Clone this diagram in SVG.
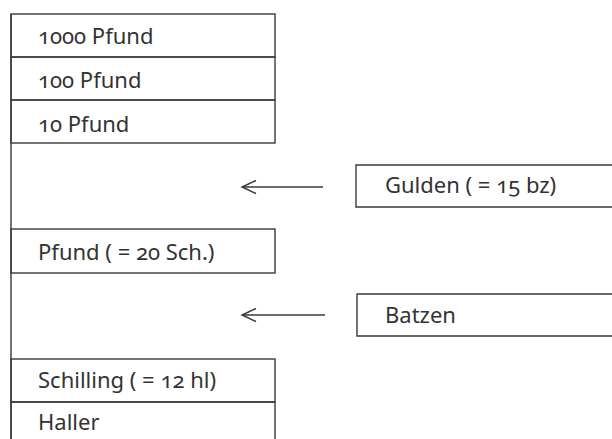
<svg xmlns="http://www.w3.org/2000/svg" width="612" height="439" viewBox="0 0 612 439">
<defs>
<style>
.box{fill:none;stroke:#3a3a3a;stroke-width:1.4}
.t{font-family:"Noto Sans","Open Sans","Liberation Sans",sans-serif;font-size:22px;fill:#333;font-variant-numeric:oldstyle-nums}
.c{fill:none;stroke:#3a3a3a;stroke-width:1.4}
</style>
<marker id="ah" markerWidth="18" markerHeight="16" refX="15.5" refY="8" orient="auto" markerUnits="userSpaceOnUse">
<path d="M1.5,1.5 L15.5,8 L1.5,14.5" fill="none" stroke="#3a3a3a" stroke-width="1.4"/>
</marker>
</defs>
<rect width="612" height="439" fill="#fff"/>
<g id="spine"><line class="box" x1="11" y1="14" x2="11" y2="445"/></g>
<g id="n1000"><rect class="box" x="11" y="14" width="264" height="43"/><text class="t" x="38" y="44">1000 Pfund</text></g>
<g id="n100"><rect class="box" x="11" y="57" width="264" height="43"/><text class="t" x="38" y="88">100 Pfund</text></g>
<g id="n10"><rect class="box" x="11" y="100" width="264" height="43"/><text class="t" x="38" y="132">10 Pfund</text></g>
<g id="pfund"><rect class="box" x="11" y="229" width="264" height="44"/><text class="t" x="38" y="260">Pfund ( = 20 Sch.)</text></g>
<g id="schilling"><rect class="box" x="11" y="359" width="264" height="43"/><text class="t" x="38" y="388">Schilling ( = 12 hl)</text></g>
<g id="haller"><path class="box" d="M11,445 L11,402 L275,402 L275,445"/><text class="t" x="38" y="430">Haller</text></g>
<g id="gulden"><path class="box" d="M620,165 L356,165 L356,207 L620,207"/><text class="t" x="385" y="193">Gulden ( = 15 bz)</text></g>
<g id="batzen"><path class="box" d="M620,294 L357,294 L357,336 L620,336"/><text class="t" x="385" y="323">Batzen</text></g>
<g id="connectors">
<line class="c" x1="323" y1="187" x2="242" y2="187" marker-end="url(#ah)"/>
<line class="c" x1="325" y1="315" x2="242" y2="315" marker-end="url(#ah)"/>
</g>
</svg>
